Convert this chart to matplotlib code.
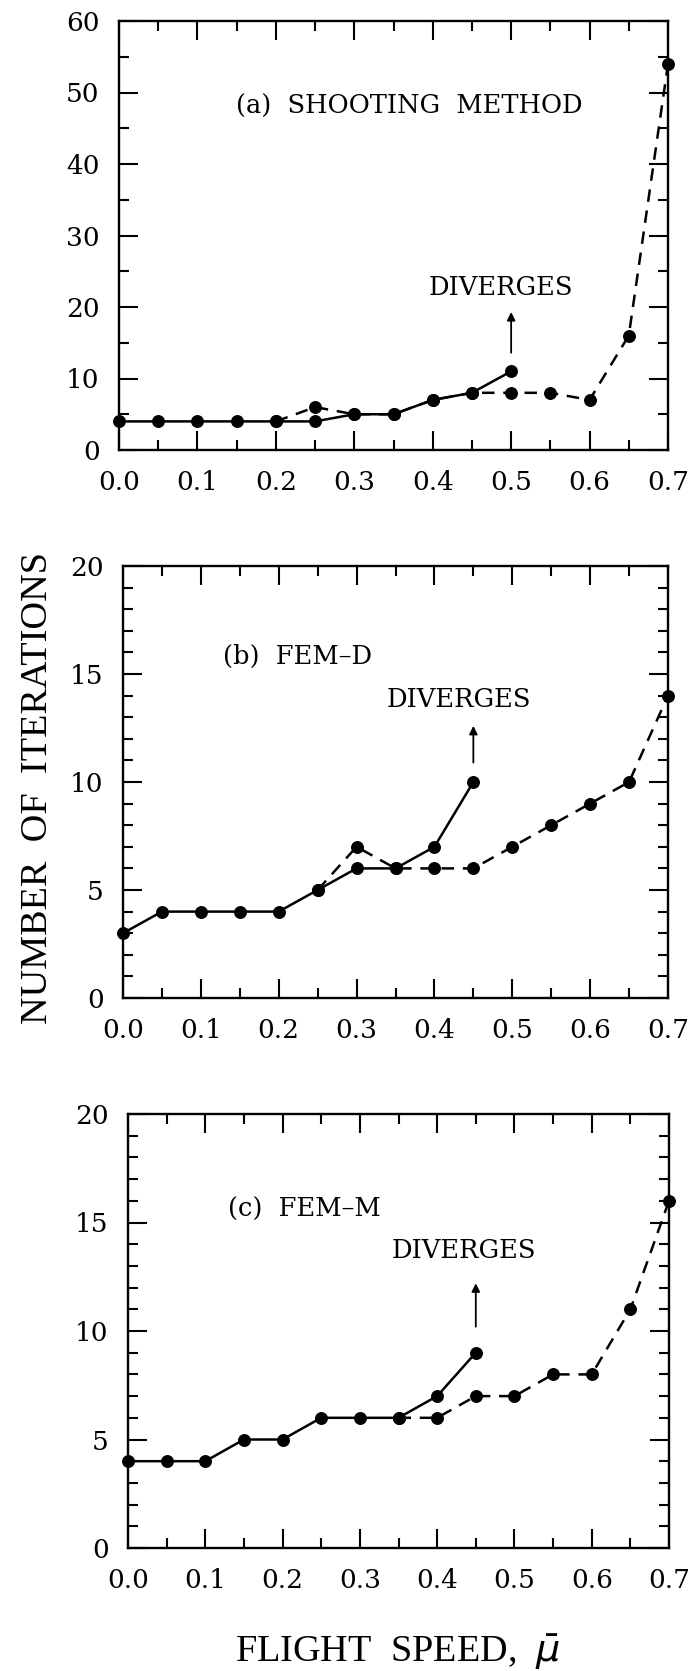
import matplotlib
matplotlib.use("Agg")
import matplotlib.pyplot as plt
from matplotlib.ticker import MultipleLocator, FixedLocator, FixedFormatter

# Flight speed grid (mu-bar)
speed = [0.0, 0.05, 0.1, 0.15, 0.2, 0.25, 0.3, 0.35, 0.4, 0.45, 0.5, 0.55, 0.6, 0.65, 0.7]

# (a) Shooting method
a_solid_x = speed[:11]
a_solid_y = [4, 4, 4, 4, 4, 4, 5, 5, 7, 8, 11]
a_dash_x = speed[4:]
a_dash_y = [4, 6, 5, 5, 7, 8, 8, 8, 7, 16, 54]

# (b) FEM-D
b_solid_x = speed[:10]
b_solid_y = [3, 4, 4, 4, 4, 5, 6, 6, 7, 10]
b_dash_x = speed[5:]
b_dash_y = [5, 7, 6, 6, 6, 7, 8, 9, 10, 14]

# (c) FEM-M
c_solid_x = speed[:10]
c_solid_y = [4, 4, 4, 5, 5, 6, 6, 6, 7, 9]
c_dash_x = speed[7:]
c_dash_y = [6, 6, 7, 7, 8, 8, 11, 16]

x_ticks = [0.0, 0.1, 0.2, 0.3, 0.4, 0.5, 0.6, 0.7]
x_tick_labels = ["0.0", "0.1", "0.2", "0.3", "0.4", "0.5", "0.6", "0.7"]

panel_titles = ["(a)  SHOOTING  METHOD", "(b)  FEM\u2013D", "(c)  FEM\u2013M"]
diverge_text = "DIVERGES"

W, H = 690, 1671
fig = plt.figure(figsize=(W / 100, H / 100), dpi=100)

label_serif = "Liberation Serif"
note_serif = "DejaVu Serif"


def px_axes(left, right, top, bottom):
    return fig.add_axes([left / W, 1 - bottom / H, (right - left) / W, (bottom - top) / H])


ax_a = px_axes(119, 668, 21, 450)
ax_b = px_axes(123, 668, 566, 998)
ax_c = px_axes(128, 669, 1114, 1548)


def style(ax, ymax, ymajor, yminor):
    ax.set_xlim(0.0, 0.7)
    ax.set_ylim(0, ymax)
    ax.xaxis.set_major_locator(FixedLocator(x_ticks))
    ax.xaxis.set_major_formatter(FixedFormatter(x_tick_labels))
    ax.xaxis.set_minor_locator(MultipleLocator(0.05))
    ax.yaxis.set_major_locator(MultipleLocator(ymajor))
    ax.yaxis.set_minor_locator(MultipleLocator(yminor))
    ax.tick_params(which="both", direction="in", top=True, right=True,
                   width=1.5, color="black")
    ax.tick_params(which="major", length=14)
    ax.tick_params(which="minor", length=7)
    ax.tick_params(axis="x", which="major", pad=14.5, labelsize=19)
    ax.tick_params(axis="y", which="major", pad=14, labelsize=19)
    for lbl in ax.get_xticklabels() + ax.get_yticklabels():
        lbl.set_fontfamily(note_serif)
    for sp in ax.spines.values():
        sp.set_linewidth(1.7)


def draw(ax, sx, sy, dx, dy):
    ax.plot(dx, dy, color="black", lw=1.8, ls=(0, (5, 3.5)), marker="o",
            ms=8.3, mfc="black", mec="black", clip_on=False, zorder=3)
    ax.plot(sx, sy, color="black", lw=1.8, ls="-", marker="o",
            ms=8.3, mfc="black", mec="black", clip_on=False, zorder=4)


def diverges(ax, x_text, y_text, x_arrow, y0, y1):
    ax.text(x_text, y_text, diverge_text, fontsize=18.5, family=note_serif,
            ha="center", va="center")
    ax.annotate("", xy=(x_arrow, y1), xytext=(x_arrow, y0),
                arrowprops=dict(arrowstyle="-|>", color="black", lw=1.3,
                                mutation_scale=12, shrinkA=0, shrinkB=0))


style(ax_a, 60, 10, 5)
style(ax_b, 20, 5, 1)
style(ax_c, 20, 5, 1)

draw(ax_a, a_solid_x, a_solid_y, a_dash_x, a_dash_y)
draw(ax_b, b_solid_x, b_solid_y, b_dash_x, b_dash_y)
draw(ax_c, c_solid_x, c_solid_y, c_dash_x, c_dash_y)

ax_a.text(0.149, 48, panel_titles[0], fontsize=18.5, family=note_serif, ha="left", va="center")
ax_b.text(0.128, 15.8, panel_titles[1], fontsize=18.5, family=note_serif, ha="left", va="center")
ax_c.text(0.130, 15.6, panel_titles[2], fontsize=18.5, family=note_serif, ha="left", va="center")

diverges(ax_a, 0.487, 22.7, 0.5, 13.6, 19.3)
diverges(ax_b, 0.432, 13.8, 0.45, 10.9, 12.6)
diverges(ax_c, 0.435, 13.7, 0.45, 10.2, 12.2)

fig.text(38 / W, 1 - 788 / H, "NUMBER  OF  ITERATIONS", rotation=90,
         fontsize=27.5, family=label_serif, ha="center", va="center")
fig.text(398 / W, 1 - 1652 / H, r"FLIGHT  SPEED,  $\bar{\mu}$",
         fontsize=27.5, family=label_serif, ha="center", va="center")

fig.savefig("out.png", dpi=100, facecolor="white")
